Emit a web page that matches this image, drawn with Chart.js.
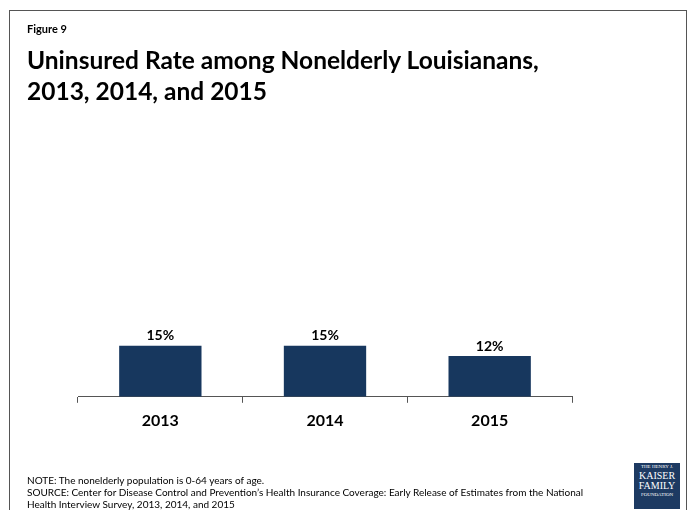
<!DOCTYPE html>
<html>
<head>
<meta charset="utf-8">
<script src="https://cdn.jsdelivr.net/npm/chart.js@4.4.1/dist/chart.umd.min.js"></script>
<style>
    html, body { margin: 0; padding: 0; background: #fff; }
    body { width: 689px; height: 510px; position: relative; overflow: hidden; font-family: Lato, "Open Sans", sans-serif; color: #000; }
    .frame { position: absolute; left: 9px; top: 10px; width: 678px; height: 520px; border: 1.5px solid #555; box-sizing: border-box; }
    .fig { position: absolute; left: 27px; top: 22px; font-size: 11px; font-weight: bold; }
    .title { position: absolute; left: 27px; top: 44px; font-size: 24.5px; font-weight: bold; line-height: 31px; }
    .notes { position: absolute; left: 27px; top: 474px; font-size: 10px; line-height: 12px; }
    .logo { position: absolute; left: 634px; top: 463px; width: 46px; height: 46px; background: #1d3a62; color: #fff; text-align: center; font-family: "Liberation Serif", serif; }
    .logo .s { font-size: 5px; line-height: 8px; }
    .logo .b { font-size: 10px; line-height: 10px; }
    #wrap { position: absolute; left: 0; top: 0; width: 689px; height: 510px; }
</style>
</head>
<body>
<div class="frame"></div>
<div id="wrap"><canvas id="chart"></canvas></div>
<div class="fig">Figure 9</div>
<div class="title">Uninsured Rate among Nonelderly Louisianans,<br>2013, 2014, and 2015</div>
<div class="notes">NOTE: The nonelderly population is 0-64 years of age.<br>SOURCE: Center for Disease Control and Prevention’s Health Insurance Coverage: Early Release of Estimates from the National<br>Health Interview Survey, 2013, 2014, and 2015</div>
<div class="logo"><div class="s">THE HENRY J.</div><div class="b">KAISER</div><div class="b">FAMILY</div><div class="s">FOUNDATION</div></div>
<script>
const years = ['2013', '2014', '2015'];
const uninsured = [15, 15, 12];
const valueLabels = ['15%', '15%', '12%'];

const barLabels = {
    id: 'barLabels',
    afterDatasetsDraw(chart) {
        const ctx = chart.ctx;
        const meta = chart.getDatasetMeta(0);
        ctx.save();
        ctx.font = 'bold 14px Lato, "Open Sans", sans-serif';
        ctx.fillStyle = '#000';
        ctx.textAlign = 'center';
        ctx.textBaseline = 'bottom';
        meta.data.forEach((bar, i) => {
            ctx.fillText(valueLabels[i], bar.x, bar.y - 3);
        });
        ctx.restore();
    }
};

new Chart(document.getElementById('chart'), {
    type: 'bar',
    data: {
        labels: years,
        datasets: [{
            data: uninsured,
            backgroundColor: '#17375e',
            borderWidth: 0,
            barPercentage: 0.5,
            categoryPercentage: 1.0
        }]
    },
    options: {
        responsive: true,
        maintainAspectRatio: false,
        animation: false,
        layout: { padding: { left: 78, right: 117, top: 125, bottom: 72 } },
        plugins: { legend: { display: false }, tooltip: { enabled: false } },
        scales: {
            x: {
                grid: { drawOnChartArea: false, drawTicks: true, tickLength: 6, color: '#555' },
                border: { color: '#555', width: 1 },
                ticks: { color: '#000', font: { family: 'Lato, "Open Sans", sans-serif', size: 16, weight: 'bold' }, padding: 8 }
            },
            y: {
                display: false,
                min: 0,
                max: 80
            }
        }
    },
    plugins: [barLabels]
});
</script>
</body>
</html>
